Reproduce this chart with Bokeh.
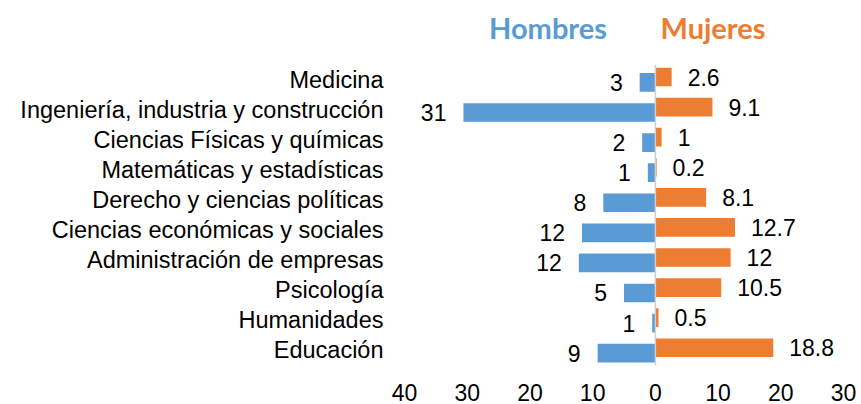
import math
from bokeh.plotting import figure
from bokeh.models import ColumnDataSource, FactorRange, Range1d, FixedTicker, Label
from bokeh.transform import dodge
from bokeh.core.properties import value
from bokeh.embed import file_html
from bokeh.resources import INLINE

categories = ["Medicina", "Ingeniería, industria y construcción",
              "Ciencias Físicas y químicas", "Matemáticas y estadísticas",
              "Derecho y ciencias políticas", "Ciencias económicas y sociales",
              "Administración de empresas", "Psicología", "Humanidades", "Educación"]
hombres = [2.5, 30.6, 2.1, 1.2, 8.3, 11.7, 12.2, 5.0, 0.5, 9.2]
mujeres = [2.6, 9.1, 1.0, 0.2, 8.1, 12.7, 12.0, 10.5, 0.5, 18.8]
x_ticks = [-40, -30, -20, -10, 0, 10, 20, 30]
series_names = ["Hombres", "Mujeres"]

BLUE = "#5B9BD5"
ORANGE = "#ED7D31"
FONT = "Liberation Sans"

src = ColumnDataSource(dict(
    cat=categories,
    h_neg=[-v for v in hombres],
    h_lab=[str(math.floor(v + 0.5)) for v in hombres],
    m=mujeres,
    m_lab=[f"{v:g}" for v in mujeres],
))

# two blank factors on top leave room for the series headings inside the frame
factors = list(reversed(categories)) + [" ", "  "]

p = figure(width=861, height=404, output_backend="svg", toolbar_location=None,
           x_range=Range1d(-40, 30), y_range=FactorRange(*factors),
           min_border_left=404, min_border_right=18, min_border_top=4,
           min_border_bottom=39)
p.y_range.range_padding = 0
p.outline_line_color = None
p.xgrid.visible = False
p.ygrid.visible = False

p.hbar(y=dodge("cat", -0.09, range=p.y_range), left=0, right="h_neg", height=0.62,
       fill_color=BLUE, line_color=None, source=src)
p.hbar(y=dodge("cat", 0.09, range=p.y_range), left=0, right="m", height=0.62,
       fill_color=ORANGE, line_color=None, source=src)

p.text(x="h_neg", y=dodge("cat", -0.09, range=p.y_range), text="h_lab",
       text_align="right", text_baseline="middle", x_offset=-17,
       text_font=value(FONT), text_font_size="23px", text_color="#000000", source=src)
p.text(x="m", y=dodge("cat", 0.09, range=p.y_range), text="m_lab",
       text_align="left", text_baseline="middle", x_offset=16,
       text_font=value(FONT), text_font_size="23px", text_color="#000000", source=src)

# vertical category axis line at zero, spanning the category rows only
axis_src = ColumnDataSource(dict(x=[0], bottom=[categories[-1]], top=[categories[0]]))
p.segment(x0="x", x1="x", y0=dodge("bottom", -0.5, range=p.y_range),
          y1=dodge("top", 0.5, range=p.y_range), line_color="#D0D0D0",
          line_width=1.5, source=axis_src)

p.xaxis.ticker = FixedTicker(ticks=x_ticks)
p.xaxis.major_label_overrides = {t: str(abs(t)) for t in x_ticks}
p.xaxis.axis_line_color = None
p.xaxis.major_tick_line_color = None
p.xaxis.minor_tick_line_color = None
p.xaxis.major_label_standoff = 12
p.xaxis.major_label_text_font = FONT
p.xaxis.major_label_text_font_size = "23px"
p.xaxis.major_label_text_color = "#000000"

p.yaxis.axis_line_color = None
p.yaxis.major_tick_line_color = None
p.yaxis.minor_tick_line_color = None
p.yaxis.major_tick_out = 0
p.yaxis.major_label_standoff = 21
p.yaxis.major_label_text_font = FONT
p.yaxis.major_label_text_font_size = "23.5px"
p.yaxis.major_label_text_color = "#000000"

p.add_layout(Label(x=143.5, y=338, x_units="screen", y_units="screen", text=series_names[0],
                   text_align="center", text_baseline="alphabetic", text_font="Lato",
                   text_font_style="bold", text_font_size="29px", text_color=BLUE))
p.add_layout(Label(x=308.5, y=338, x_units="screen", y_units="screen", text=series_names[1],
                   text_align="center", text_baseline="alphabetic", text_font="Lato",
                   text_font_style="bold", text_font_size="29px", text_color=ORANGE))

open("out.html", "w").write(file_html(p, INLINE))
